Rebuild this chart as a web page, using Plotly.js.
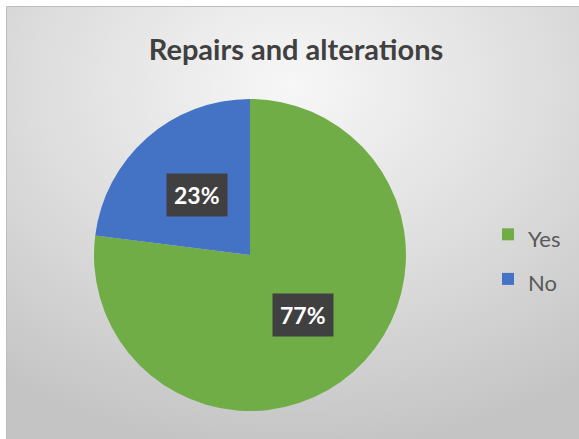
<!DOCTYPE html>
<html>
<head>
<meta charset="utf-8">
<script src="https://cdn.plot.ly/plotly-3.0.1.min.js"></script>
<style>html,body{margin:0;padding:0;background:#fff;}#chart{width:579px;height:439px;}</style>
</head>
<body>
<div id="chart"></div>
<script>
const chartTitle = "Repairs and alterations";
const labels = ["Yes", "No"];
const values = [77, 23];
const colors = ["#70AD47", "#4472C4"];

const W = 579, H = 439;
// pie domain in paper fractions
const dom = {x: [94 / W, 406 / W], y: [1 - 411 / H, 1 - 99 / H]};

const total = values.reduce((a, b) => a + b, 0);
const annotations = [];
let start = 0;
values.forEach((v, i) => {
  const frac = v / total;
  const mid = (start + frac / 2) * 2 * Math.PI;
  start += frac;
  const cxp = (dom.x[0] + dom.x[1]) / 2 * W;
  const cyp = (dom.y[0] + dom.y[1]) / 2 * H;
  const R = (dom.x[1] - dom.x[0]) * W / 2;
  const r = 0.51 * R;
  annotations.push({
    xref: "paper", yref: "paper",
    x: (cxp + r * Math.sin(mid)) / W,
    y: (cyp + r * Math.cos(mid)) / H,
    text: "<b>" + Math.round(frac * 100) + "%</b>",
    showarrow: false,
    font: {family: "Lato, 'Open Sans', sans-serif", size: 23, color: "#ffffff"},
    bgcolor: "#404040",
    borderpad: 7,
    xanchor: "center", yanchor: "middle"
  });
});

const bgSvg = '<svg xmlns="http://www.w3.org/2000/svg" width="572" height="432" viewBox="0 0 572 432">' +
  '<defs><radialGradient id="g" cx="0.5" cy="0.18" r="0.85" gradientUnits="objectBoundingBox">' +
  '<stop offset="0" stop-color="#f7f7f7"/><stop offset="0.55" stop-color="#dcdcdc"/><stop offset="1" stop-color="#c4c4c4"/>' +
  '</radialGradient></defs><rect width="572" height="432" fill="url(#g)"/></svg>';
const bgUri = "data:image/svg+xml;charset=utf-8," + encodeURIComponent(bgSvg);

const trace = {
  type: "pie",
  labels: labels.map(l => "<span style='font-size:22px'>" + l + "</span>"),
  values: values,
  marker: {colors: colors, line: {width: 0}},
  sort: false,
  direction: "clockwise",
  rotation: 0,
  textinfo: "none",
  hoverinfo: "label+percent",
  domain: dom
};

const layout = {
  width: W, height: H,
  margin: {l: 0, r: 0, t: 0, b: 0},
  paper_bgcolor: "#ffffff",
  title: {
    text: "<b>" + chartTitle + "</b>",
    font: {family: "Lato, 'Open Sans', sans-serif", size: 29, color: "#404040"},
    x: 296 / W, xanchor: "center",
    y: 1 - 50 / H, yanchor: "middle"
  },
  showlegend: true,
  legend: {
    x: 488 / W, xanchor: "left",
    y: 1 - 207 / H, yanchor: "top",
    valign: "middle",
    font: {family: "Lato, 'Open Sans', sans-serif", size: 32, color: "#595959"},
    bgcolor: "rgba(0,0,0,0)",
    itemwidth: 30,
    itemclick: false
  },
  images: [{
    source: bgUri, xref: "paper", yref: "paper",
    x: 7 / W, y: 1 - 7 / H, sizex: (W - 7) / W, sizey: (H - 7) / H,
    xanchor: "left", yanchor: "top", sizing: "stretch", layer: "below"
  }],
  shapes: [{
    type: "rect", xref: "paper", yref: "paper",
    x0: 6.5 / W, x1: 1.01, y0: -0.01, y1: 1 - 6.5 / H,
    line: {color: "#bdbdbd", width: 1}, fillcolor: "rgba(0,0,0,0)", layer: "below"
  }],
  annotations: annotations
};

Plotly.newPlot("chart", [trace], layout, {displayModeBar: false, staticPlot: true});
</script>
</body>
</html>
